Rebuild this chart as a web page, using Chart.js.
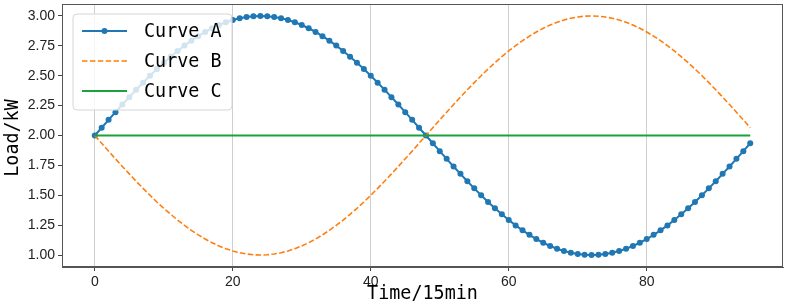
<!DOCTYPE html>
<html>
<head>
<meta charset="utf-8">
<script src="https://cdn.jsdelivr.net/npm/chart.js@4.4.0/dist/chart.umd.min.js"></script>
<style>
  html, body { margin: 0; padding: 0; background: #fff; }
  #wrap { width: 796px; height: 307px; }
</style>
</head>
<body>
<div id="wrap"><canvas id="chart"></canvas></div>
<script>
// time index (15 min steps)
const timeSteps = [
  0, 1, 2, 3, 4, 5, 6, 7, 8, 9, 10, 11, 12, 13, 14, 15,
  16, 17, 18, 19, 20, 21, 22, 23, 24, 25, 26, 27, 28, 29, 30, 31,
  32, 33, 34, 35, 36, 37, 38, 39, 40, 41, 42, 43, 44, 45, 46, 47,
  48, 49, 50, 51, 52, 53, 54, 55, 56, 57, 58, 59, 60, 61, 62, 63,
  64, 65, 66, 67, 68, 69, 70, 71, 72, 73, 74, 75, 76, 77, 78, 79,
  80, 81, 82, 83, 84, 85, 86, 87, 88, 89, 90, 91, 92, 93, 94, 95
];

const curveA = [
  2.000, 2.065, 2.131, 2.195, 2.259, 2.321, 2.383, 2.442, 2.500, 2.556, 2.609, 2.659, 2.707, 2.752, 2.793, 2.831,
  2.866, 2.897, 2.924, 2.947, 2.966, 2.981, 2.991, 2.998, 3.000, 2.998, 2.991, 2.981, 2.966, 2.947, 2.924, 2.897,
  2.866, 2.831, 2.793, 2.752, 2.707, 2.659, 2.609, 2.556, 2.500, 2.442, 2.383, 2.321, 2.259, 2.195, 2.131, 2.065,
  2.000, 1.935, 1.869, 1.805, 1.741, 1.679, 1.617, 1.558, 1.500, 1.444, 1.391, 1.341, 1.293, 1.248, 1.207, 1.169,
  1.134, 1.103, 1.076, 1.053, 1.034, 1.019, 1.009, 1.002, 1.000, 1.002, 1.009, 1.019, 1.034, 1.053, 1.076, 1.103,
  1.134, 1.169, 1.207, 1.248, 1.293, 1.341, 1.391, 1.444, 1.500, 1.558, 1.617, 1.679, 1.741, 1.805, 1.869, 1.935
];

const curveB = [
  2.000, 1.935, 1.869, 1.805, 1.741, 1.679, 1.617, 1.558, 1.500, 1.444, 1.391, 1.341, 1.293, 1.248, 1.207, 1.169,
  1.134, 1.103, 1.076, 1.053, 1.034, 1.019, 1.009, 1.002, 1.000, 1.002, 1.009, 1.019, 1.034, 1.053, 1.076, 1.103,
  1.134, 1.169, 1.207, 1.248, 1.293, 1.341, 1.391, 1.444, 1.500, 1.558, 1.617, 1.679, 1.741, 1.805, 1.869, 1.935,
  2.000, 2.065, 2.131, 2.195, 2.259, 2.321, 2.383, 2.442, 2.500, 2.556, 2.609, 2.659, 2.707, 2.752, 2.793, 2.831,
  2.866, 2.897, 2.924, 2.947, 2.966, 2.981, 2.991, 2.998, 3.000, 2.998, 2.991, 2.981, 2.966, 2.947, 2.924, 2.897,
  2.866, 2.831, 2.793, 2.752, 2.707, 2.659, 2.609, 2.556, 2.500, 2.442, 2.383, 2.321, 2.259, 2.195, 2.131, 2.065
];

const curveC = [
  2, 2, 2, 2, 2, 2, 2, 2, 2, 2, 2, 2, 2, 2, 2, 2,
  2, 2, 2, 2, 2, 2, 2, 2, 2, 2, 2, 2, 2, 2, 2, 2,
  2, 2, 2, 2, 2, 2, 2, 2, 2, 2, 2, 2, 2, 2, 2, 2,
  2, 2, 2, 2, 2, 2, 2, 2, 2, 2, 2, 2, 2, 2, 2, 2,
  2, 2, 2, 2, 2, 2, 2, 2, 2, 2, 2, 2, 2, 2, 2, 2,
  2, 2, 2, 2, 2, 2, 2, 2, 2, 2, 2, 2, 2, 2, 2, 2
];

const seriesNames = ['Curve A', 'Curve B', 'Curve C'];
const xTicks = [0, 20, 40, 60, 80];
const yTicks = [1.00, 1.25, 1.50, 1.75, 2.00, 2.25, 2.50, 2.75, 3.00];
const xTitle = 'Time/15min';
const yTitle = 'Load/kW';

const blue = '#1f77b4', orange = '#ff7f0e', green = '#1ca23a';
const monoFont = '"DejaVu Sans Mono", monospace';

function toPoints(arr) {
  return timeSteps.map((t, i) => ({ x: t, y: arr[i] }));
}

// frame, axis titles and legend box drawn on top
const decorPlugin = {
  id: 'decor',
  afterDraw(chart) {
    const ctx = chart.ctx;
    const a = chart.chartArea;
    ctx.save();
    ctx.strokeStyle = '#555';
    ctx.lineWidth = 1;
    ctx.strokeRect(a.left + 0.5, a.top + 0.5, a.right - a.left - 1, a.bottom - a.top - 1);

    // axis titles
    ctx.fillStyle = '#000';
    ctx.font = '20px ' + monoFont;
    ctx.textAlign = 'center';
    ctx.textBaseline = 'middle';
    ctx.save();
    ctx.translate((a.left + a.right) / 2, 294);
    ctx.scale(0.92, 1);
    ctx.fillText(xTitle, 0, 0);
    ctx.restore();
    ctx.save();
    ctx.translate(13, 138);
    ctx.rotate(-Math.PI / 2);
    ctx.scale(0.92, 1);
    ctx.fillText(yTitle, 0, 0);
    ctx.restore();

    // legend
    const bx = 73, by = 14, bw = 159, bh = 96, r = 4;
    ctx.beginPath();
    ctx.moveTo(bx + r, by);
    ctx.arcTo(bx + bw, by, bx + bw, by + bh, r);
    ctx.arcTo(bx + bw, by + bh, bx, by + bh, r);
    ctx.arcTo(bx, by + bh, bx, by, r);
    ctx.arcTo(bx, by, bx + bw, by, r);
    ctx.closePath();
    ctx.fillStyle = 'rgba(255,255,255,0.8)';
    ctx.fill();
    ctx.strokeStyle = '#d6d6d6';
    ctx.stroke();

    const rows = [31, 61, 91];
    const styles = [
      { color: blue, dash: [], width: 2, marker: true },
      { color: orange, dash: [5.5, 2.4], width: 1.5, marker: false },
      { color: green, dash: [], width: 2, marker: false }
    ];
    rows.forEach((y, i) => {
      const s = styles[i];
      ctx.beginPath();
      ctx.setLineDash(s.dash);
      ctx.strokeStyle = s.color;
      ctx.lineWidth = s.width;
      ctx.moveTo(82, y);
      ctx.lineTo(127, y);
      ctx.stroke();
      ctx.setLineDash([]);
      if (s.marker) {
        ctx.beginPath();
        ctx.fillStyle = s.color;
        ctx.arc(104.5, y, 3, 0, Math.PI * 2);
        ctx.fill();
      }
      ctx.save();
      ctx.fillStyle = '#000';
      ctx.font = '20px ' + monoFont;
      ctx.textAlign = 'left';
      ctx.translate(144, y + 1);
      ctx.scale(0.92, 1);
      ctx.fillText(seriesNames[i], 0, 0);
      ctx.restore();
    });
    ctx.restore();
  }
};

new Chart(document.getElementById('chart'), {
  type: 'line',
  data: {
    datasets: [
      {
        label: seriesNames[0],
        data: toPoints(curveA),
        borderColor: blue,
        backgroundColor: blue,
        borderWidth: 2,
        pointRadius: 3,
        pointBorderWidth: 0,
        pointBackgroundColor: blue,
        order: 3
      },
      {
        label: seriesNames[1],
        data: toPoints(curveB),
        borderColor: orange,
        borderWidth: 1.6,
        borderDash: [5.5, 2.4],
        pointRadius: 0,
        order: 2
      },
      {
        label: seriesNames[2],
        data: toPoints(curveC),
        borderColor: green,
        borderWidth: 1.8,
        pointRadius: 0,
        order: 1
      }
    ]
  },
  options: {
    responsive: true,
    maintainAspectRatio: false,
    animation: false,
    layout: { padding: { top: 3, right: 13, left: 0, bottom: 0 } },
    plugins: { legend: { display: false }, tooltip: { enabled: false } },
    scales: {
      x: {
        type: 'linear',
        min: -4.75,
        max: 99.75,
        afterBuildTicks: s => { s.ticks = xTicks.map(v => ({ value: v })); },
        afterFit: s => { s.height = 40; s.paddingLeft = 0; s.paddingRight = 0; },
        grid: { color: '#cfcfcf', lineWidth: 1, tickLength: 4, tickColor: '#444' },
        border: { color: '#555' },
        ticks: {
          color: '#222',
          font: { family: 'Liberation Sans', size: 14 },
          padding: 3,
          maxRotation: 0,
          callback: v => String(v)
        }
      },
      y: {
        min: 0.9,
        max: 3.1,
        afterBuildTicks: s => { s.ticks = yTicks.map(v => ({ value: v })); },
        afterFit: s => { s.width = 62; s.paddingTop = 0; s.paddingBottom = 0; },
        grid: { drawOnChartArea: false, tickLength: 4, tickColor: '#444' },
        border: { color: '#555' },
        ticks: {
          color: '#222',
          font: { family: 'Liberation Sans', size: 14 },
          padding: 3,
          callback: v => Number(v).toFixed(2)
        }
      }
    }
  },
  plugins: [decorPlugin]
});
</script>
</body>
</html>
